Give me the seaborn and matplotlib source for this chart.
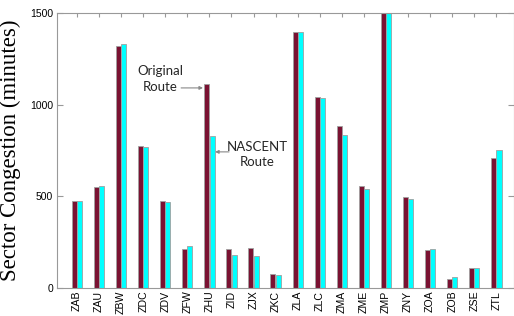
import pandas as pd
import seaborn as sns
import matplotlib.pyplot as plt

sectors = ['ZAB', 'ZAU', 'ZBW', 'ZDC', 'ZDV', 'ZFW', 'ZHU', 'ZID', 'ZJX', 'ZKC',
           'ZLA', 'ZLC', 'ZMA', 'ZME', 'ZMP', 'ZNY', 'ZOA', 'ZOB', 'ZSE', 'ZTL']
original = [475, 550, 1320, 775, 475, 210, 1115, 210, 220, 75,
            1395, 1040, 885, 555, 1500, 495, 205, 50, 110, 710]
nascent = [473, 555, 1330, 770, 470, 230, 830, 180, 175, 70,
           1395, 1035, 835, 540, 1500, 485, 210, 60, 110, 750]
yticks = [0, 500, 1000, 1500]

df = pd.DataFrame({
    'Sector': sectors * 2,
    'Congestion': original + nascent,
    'Route': ['Original'] * len(sectors) + ['NASCENT'] * len(sectors),
})

sns.set_style('white')
plt.rcParams['font.family'] = ['Liberation Sans', 'DejaVu Sans']

fig = plt.figure(figsize=(5.14, 3.16), dpi=100)
ax = fig.add_axes([0.111, 0.089, 0.889, 0.870])

sns.barplot(data=df, x='Sector', y='Congestion', hue='Route', ax=ax,
            palette=['#7a1232', '#00ffff'], saturation=1, width=0.48, gap=0.05,
            edgecolor='#a0a0a0', linewidth=0.6, legend=False)

ax.set_xlim(-0.9, 19.8)
ax.set_ylim(0, 1500)
ax.set_yticks(yticks)
ax.set_xlabel('')
ax.set_ylabel('Sector Congestion (minutes)', family='Liberation Serif', fontsize=16.5,
              labelpad=6, color='black')
ax.tick_params(axis='x', labelrotation=90, labelsize=7.6, labelcolor='black', direction='in',
               length=3, top=True, bottom=True, color='#999999', pad=2)
ax.tick_params(axis='y', labelsize=7.5, labelcolor='black', direction='in', length=4,
               left=True, right=True, color='#999999', pad=3)
for s in ax.spines.values():
    s.set_color('#999999')
    s.set_linewidth(0.8)

ax.text(3.76, 1140, 'Original\nRoute', family='Lato', fontsize=9.5, ha='center', va='center',
        linespacing=1.35)
ax.annotate('', xy=(5.71, 1091), xytext=(4.72, 1091),
            arrowprops=dict(arrowstyle='-|>', color='#888888', lw=0.8,
                            mutation_scale=5, shrinkA=0, shrinkB=0))
ax.text(8.15, 728, 'NASCENT\nRoute', family='Lato', fontsize=9.5, ha='center', va='center',
        linespacing=1.35)
ax.annotate('', xy=(6.26, 742), xytext=(6.89, 742),
            arrowprops=dict(arrowstyle='-|>', color='#888888', lw=0.8,
                            mutation_scale=5, shrinkA=0, shrinkB=0))

fig.savefig('out.png', dpi=100)
